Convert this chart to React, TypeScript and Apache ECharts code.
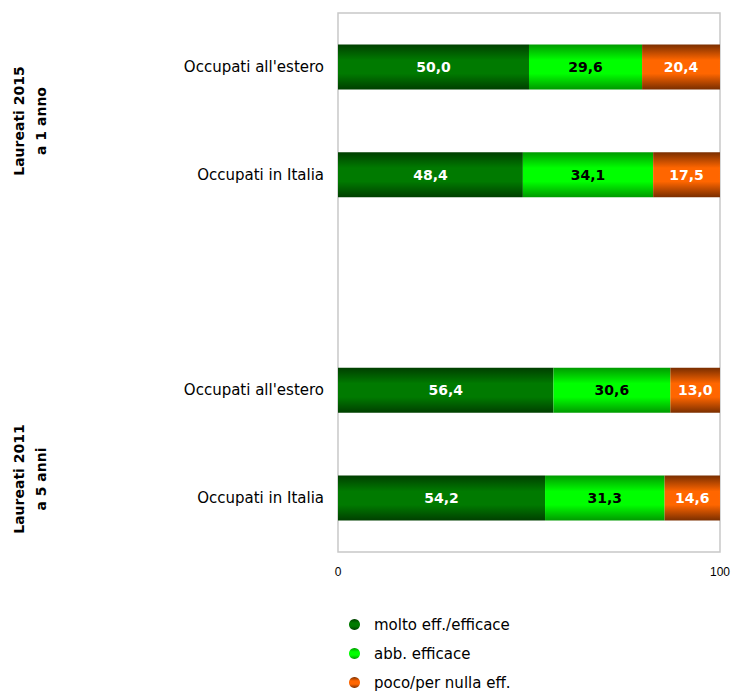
import React, { useEffect, useRef } from "react";
import * as echarts from "echarts";

const categories = ["Occupati all'estero", "Occupati in Italia", "", "Occupati all'estero", "Occupati in Italia"];
const seriesNames = ["molto eff./efficace", "abb. efficace", "poco/per nulla eff."];
const molto = [50.0, 48.4, null, 56.4, 54.2];
const abb = [29.6, 34.1, null, 30.6, 31.3];
const poco = [20.4, 17.5, null, 13.0, 14.6];
const groupLabels = ["Laureati 2015\na 1 anno", "Laureati 2011\na 5 anni"];
const xTicks = [0, 100];

const grad = (edge: string, mid: string) =>
  new echarts.graphic.LinearGradient(0, 0, 0, 1, [
    { offset: 0, color: edge },
    { offset: 0.35, color: mid },
    { offset: 0.65, color: mid },
    { offset: 1, color: edge },
  ]);

export default function App() {
  const ref = useRef<HTMLDivElement>(null);
  useEffect(() => {
    if (!ref.current) return;
    document.body.style.margin = "0";
    document.body.style.overflow = "hidden";
    const chart = echarts.init(ref.current, null, { renderer: "svg" });
    const colors = [
      { bar: grad("#003f00", "#007a00"), legend: "#1a6b1a", label: "#ffffff" },
      { bar: grad("#009a00", "#00ff00"), legend: "#11dd11", label: "#000000" },
      { bar: grad("#7a2e00", "#ff6600"), legend: "#e05a00", label: "#ffffff" },
    ];
    const datas = [molto, abb, poco];
    const fmt = (v: number) => v.toFixed(1).replace(".", ",");
    const groupText = (text: string, y: number) => ({
      type: "text",
      x: 30,
      y,
      rotation: Math.PI / 2,
      style: {
        text,
        fontFamily: "DejaVu Sans",
        fontWeight: "bold",
        fontSize: 14,
        lineHeight: 22,
        fill: "#000",
        align: "center",
        verticalAlign: "middle",
      },
    });
    chart.setOption({
      animation: false,
      backgroundColor: "#ffffff",
      grid: {
        left: 338,
        top: 13,
        width: 382,
        height: 539,
        show: true,
        borderColor: "#c8c8c8",
        borderWidth: 1.5,
        containLabel: false,
      },
      xAxis: {
        type: "value",
        min: 0,
        max: 100,
        interval: 100,
        splitLine: { show: false },
        axisLine: { show: false },
        axisTick: { show: false },
        axisLabel: {
          margin: 14,
          fontFamily: "Liberation Sans",
          fontSize: 12,
          color: "#000",
          formatter: (v: number) => (xTicks.includes(v) ? String(v) : ""),
        },
      },
      yAxis: {
        type: "category",
        inverse: true,
        data: categories.map((c, i) => c + "#" + i),
        axisLine: { show: false },
        axisTick: { show: false },
        axisLabel: {
          margin: 14,
          fontFamily: "DejaVu Sans",
          fontSize: 15,
          color: "#000",
          formatter: (_v: string, i: number) => categories[i],
        },
      },
      legend: {
        orient: "vertical",
        left: 344,
        top: 612,
        itemGap: 14,
        itemWidth: 11,
        itemHeight: 11,
        icon: "circle",
        textStyle: { fontFamily: "DejaVu Sans", fontSize: 15, color: "#000", padding: [0, 0, 0, 9] },
        data: seriesNames,
      },
      graphic: [groupText(groupLabels[0], 121), groupText(groupLabels[1], 479)],
      series: seriesNames.map((name, k) => ({
        name,
        type: "bar",
        stack: "total",
        barWidth: 45,
        color: colors[k].legend,
        itemStyle: { color: colors[k].bar },
        label: {
          show: true,
          position: "inside",
          fontFamily: "DejaVu Sans",
          fontWeight: "bold",
          fontSize: 14,
          color: colors[k].label,
          formatter: (p: any) => (p.value == null ? "" : fmt(p.value)),
        },
        data: datas[k],
      })),
    });
    return () => chart.dispose();
  }, []);
  return <div ref={ref} style={{ width: 733, height: 730 }} />;
}
